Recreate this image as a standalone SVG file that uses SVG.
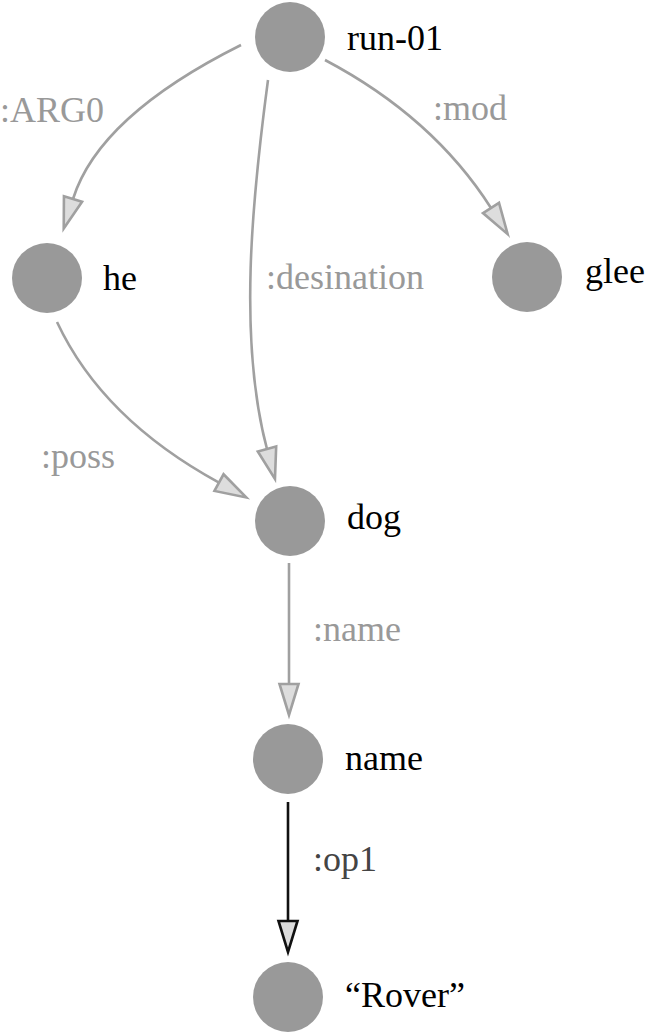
<svg xmlns="http://www.w3.org/2000/svg" width="645" height="1032" viewBox="0 0 645 1032">
<style>
.node circle{fill:#999999;}
.node text{font-family:'Liberation Serif','LiberationSerif',Tinos,'Times New Roman',Times,'DejaVu Serif',serif;font-size:36px;fill:#000000;}
.edge{fill:none;stroke:#a0a0a0;stroke-width:2.6;marker-end:url(#arrowGray);}
.edge.dark{stroke:#111111;marker-end:url(#arrowDark);}
.elabel{font-family:'Liberation Serif','LiberationSerif',Tinos,'Times New Roman',Times,'DejaVu Serif',serif;font-size:36px;fill:#999999;}
.elabel.dark{fill:#444444;}
</style>
<defs>
<marker id="arrowGray" markerUnits="userSpaceOnUse" markerWidth="40" markerHeight="30" refX="0" refY="0" orient="auto" viewBox="-3 -15 40 30" overflow="visible">
<path d="M0,-9.5 L31,0 L0,9.5 Z" fill="#dddddd" stroke="#a0a0a0" stroke-width="2.6"/>
</marker>
<marker id="arrowDark" markerUnits="userSpaceOnUse" markerWidth="40" markerHeight="30" refX="0" refY="0" orient="auto" viewBox="-3 -15 40 30" overflow="visible">
<path d="M0,-9.5 L31,0 L0,9.5 Z" fill="#dddddd" stroke="#111111" stroke-width="2.6"/>
</marker>
</defs>
<g id="connectors">
<path class="edge" d="M241,45 Q99,116 73,199"/>
<path class="edge" d="M325,60 Q433,117 491,208"/>
<path class="edge" d="M268,80 C252,200 238,340 267,449"/>
<path class="edge" d="M57,322 Q102.4,419 219,482.6"/>
<path class="edge" d="M289,563 L289,684"/>
<path class="edge dark" d="M288,802 L288,921"/>
<text class="elabel" x="0" y="122" font-family="Liberation Serif, serif">:ARG0</text>
<text class="elabel" x="433" y="120" font-family="Liberation Serif, serif">:mod</text>
<text class="elabel" x="266" y="289" font-family="Liberation Serif, serif">:desination</text>
<text class="elabel" x="41" y="468" font-family="Liberation Serif, serif">:poss</text>
<text class="elabel" x="313" y="641" font-family="Liberation Serif, serif">:name</text>
<text class="elabel dark" x="313" y="871" font-family="Liberation Serif, serif">:op1</text>
</g>
<g id="node-run01" class="node"><circle cx="290" cy="37" r="35"/><text x="347" y="50">run-01</text></g>
<g id="node-he" class="node"><circle cx="47" cy="278" r="35"/><text x="103" y="290">he</text></g>
<g id="node-glee" class="node"><circle cx="527" cy="277" r="35"/><text x="585" y="283">glee</text></g>
<g id="node-dog" class="node"><circle cx="290" cy="521" r="35"/><text x="347" y="529">dog</text></g>
<g id="node-name" class="node"><circle cx="288" cy="759" r="35"/><text x="345" y="770">name</text></g>
<g id="node-rover" class="node"><circle cx="288" cy="997" r="35"/><text x="345" y="1007">“Rover”</text></g>
</svg>
